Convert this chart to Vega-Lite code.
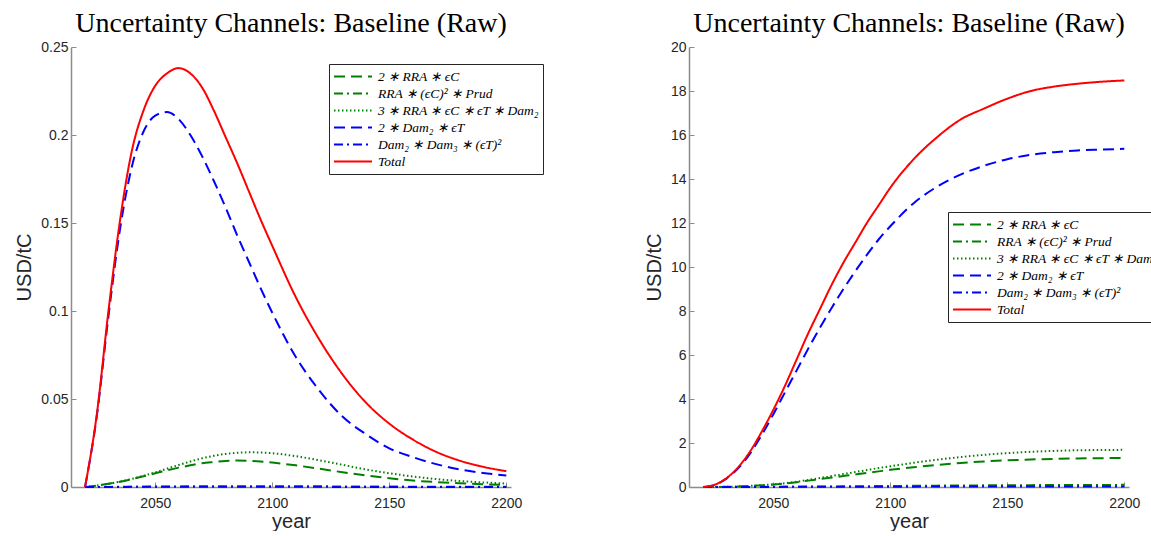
{
  "$schema": "https://vega.github.io/schema/vega-lite/v6.json",
  "background": "white",
  "padding": {"left": 14, "right": 0, "top": 10, "bottom": 0},
  "datasets": {
    "raw_left": [
      {"year": 2020, "A": 0, "B": 0, "C": 0, "D": 0, "E": 0, "T": 0},
      {"year": 2025, "A": 0.0008, "B": 0.00003, "C": 0.0008, "D": 0.040, "E": 0.00002, "T": 0.041},
      {"year": 2030, "A": 0.0018, "B": 0.00007, "C": 0.0018, "D": 0.097, "E": 0.00004, "T": 0.100},
      {"year": 2035, "A": 0.0030, "B": 0.00011, "C": 0.0031, "D": 0.147, "E": 0.00006, "T": 0.152},
      {"year": 2040, "A": 0.0045, "B": 0.00016, "C": 0.0046, "D": 0.182, "E": 0.00008, "T": 0.191},
      {"year": 2045, "A": 0.0061, "B": 0.0002, "C": 0.0064, "D": 0.202, "E": 0.0001, "T": 0.214},
      {"year": 2050, "A": 0.0078, "B": 0.00025, "C": 0.0083, "D": 0.211, "E": 0.00011, "T": 0.228},
      {"year": 2055, "A": 0.0095, "B": 0.0003, "C": 0.0104, "D": 0.213, "E": 0.00012, "T": 0.235},
      {"year": 2060, "A": 0.0110, "B": 0.00034, "C": 0.0125, "D": 0.209, "E": 0.00013, "T": 0.238},
      {"year": 2065, "A": 0.0123, "B": 0.00038, "C": 0.0145, "D": 0.200, "E": 0.00013, "T": 0.235},
      {"year": 2070, "A": 0.0135, "B": 0.00041, "C": 0.0163, "D": 0.188, "E": 0.00013, "T": 0.227},
      {"year": 2075, "A": 0.0142, "B": 0.00043, "C": 0.0177, "D": 0.174, "E": 0.00013, "T": 0.214},
      {"year": 2080, "A": 0.0148, "B": 0.00045, "C": 0.0188, "D": 0.159, "E": 0.00012, "T": 0.199},
      {"year": 2085, "A": 0.0150, "B": 0.00046, "C": 0.0194, "D": 0.143, "E": 0.00012, "T": 0.184},
      {"year": 2090, "A": 0.0149, "B": 0.00046, "C": 0.0197, "D": 0.128, "E": 0.00011, "T": 0.168},
      {"year": 2095, "A": 0.0145, "B": 0.00046, "C": 0.0196, "D": 0.113, "E": 0.00011, "T": 0.152},
      {"year": 2100, "A": 0.0139, "B": 0.00045, "C": 0.0192, "D": 0.099, "E": 0.0001, "T": 0.137},
      {"year": 2110, "A": 0.0123, "B": 0.00042, "C": 0.0175, "D": 0.074, "E": 0.00009, "T": 0.108},
      {"year": 2120, "A": 0.0104, "B": 0.00038, "C": 0.0152, "D": 0.055, "E": 0.00008, "T": 0.084},
      {"year": 2130, "A": 0.0084, "B": 0.00033, "C": 0.0126, "D": 0.040, "E": 0.00006, "T": 0.064},
      {"year": 2140, "A": 0.0066, "B": 0.00029, "C": 0.0100, "D": 0.030, "E": 0.00005, "T": 0.048},
      {"year": 2150, "A": 0.0050, "B": 0.00024, "C": 0.0078, "D": 0.022, "E": 0.00004, "T": 0.036},
      {"year": 2160, "A": 0.0037, "B": 0.0002, "C": 0.0060, "D": 0.017, "E": 0.00003, "T": 0.027},
      {"year": 2170, "A": 0.0028, "B": 0.00016, "C": 0.0045, "D": 0.013, "E": 0.00002, "T": 0.020},
      {"year": 2180, "A": 0.0021, "B": 0.00013, "C": 0.0034, "D": 0.010, "E": 0.00002, "T": 0.015},
      {"year": 2190, "A": 0.0016, "B": 0.0001, "C": 0.0026, "D": 0.008, "E": 0.00001, "T": 0.0115},
      {"year": 2200, "A": 0.0012, "B": 0.00008, "C": 0.0020, "D": 0.0065, "E": 0.00001, "T": 0.009}
    ],
    "raw_right": [
      {"year": 2020, "A": 0, "B": 0, "C": 0, "D": 0, "E": 0, "T": 0},
      {"year": 2025, "A": 0.003, "B": 0.0003, "C": 0.003, "D": 0.1, "E": 0.0005, "T": 0.1},
      {"year": 2030, "A": 0.01, "B": 0.001, "C": 0.01, "D": 0.38, "E": 0.001, "T": 0.4},
      {"year": 2035, "A": 0.025, "B": 0.002, "C": 0.025, "D": 0.85, "E": 0.002, "T": 0.9},
      {"year": 2040, "A": 0.045, "B": 0.004, "C": 0.05, "D": 1.5, "E": 0.003, "T": 1.6},
      {"year": 2045, "A": 0.075, "B": 0.006, "C": 0.08, "D": 2.35, "E": 0.004, "T": 2.5},
      {"year": 2050, "A": 0.11, "B": 0.009, "C": 0.12, "D": 3.3, "E": 0.005, "T": 3.5},
      {"year": 2055, "A": 0.16, "B": 0.012, "C": 0.17, "D": 4.3, "E": 0.006, "T": 4.6},
      {"year": 2060, "A": 0.22, "B": 0.015, "C": 0.24, "D": 5.3, "E": 0.007, "T": 5.8},
      {"year": 2065, "A": 0.29, "B": 0.018, "C": 0.32, "D": 6.3, "E": 0.008, "T": 7.0},
      {"year": 2070, "A": 0.36, "B": 0.022, "C": 0.41, "D": 7.25, "E": 0.009, "T": 8.1},
      {"year": 2075, "A": 0.43, "B": 0.026, "C": 0.5, "D": 8.15, "E": 0.01, "T": 9.2},
      {"year": 2080, "A": 0.5, "B": 0.03, "C": 0.59, "D": 9.0, "E": 0.011, "T": 10.2},
      {"year": 2085, "A": 0.57, "B": 0.034, "C": 0.68, "D": 9.8, "E": 0.012, "T": 11.1},
      {"year": 2090, "A": 0.64, "B": 0.038, "C": 0.77, "D": 10.55, "E": 0.013, "T": 12.0},
      {"year": 2095, "A": 0.71, "B": 0.042, "C": 0.86, "D": 11.25, "E": 0.014, "T": 12.8},
      {"year": 2100, "A": 0.78, "B": 0.046, "C": 0.94, "D": 11.85, "E": 0.015, "T": 13.6},
      {"year": 2110, "A": 0.9, "B": 0.054, "C": 1.1, "D": 12.9, "E": 0.017, "T": 14.9},
      {"year": 2120, "A": 1.0, "B": 0.062, "C": 1.24, "D": 13.65, "E": 0.018, "T": 15.9},
      {"year": 2130, "A": 1.09, "B": 0.069, "C": 1.36, "D": 14.2, "E": 0.019, "T": 16.7},
      {"year": 2140, "A": 1.16, "B": 0.075, "C": 1.46, "D": 14.6, "E": 0.02, "T": 17.2},
      {"year": 2150, "A": 1.21, "B": 0.08, "C": 1.54, "D": 14.9, "E": 0.021, "T": 17.65},
      {"year": 2160, "A": 1.25, "B": 0.085, "C": 1.6, "D": 15.1, "E": 0.022, "T": 18.0},
      {"year": 2170, "A": 1.28, "B": 0.089, "C": 1.64, "D": 15.22, "E": 0.022, "T": 18.2},
      {"year": 2180, "A": 1.3, "B": 0.092, "C": 1.67, "D": 15.3, "E": 0.023, "T": 18.33},
      {"year": 2190, "A": 1.31, "B": 0.095, "C": 1.68, "D": 15.34, "E": 0.023, "T": 18.42},
      {"year": 2200, "A": 1.32, "B": 0.097, "C": 1.69, "D": 15.37, "E": 0.023, "T": 18.48}
    ]
  },
  "config": {
    "view": {"stroke": null},
    "axis": {
      "grid": false,
      "domainColor": "#8c8c8c",
      "domainWidth": 1.5,
      "tickColor": "#8c8c8c",
      "tickSize": -5,
      "tickWidth": 1,
      "labelFont": "Liberation Sans",
      "labelFontSize": 14,
      "labelColor": "#262626",
      "titleFont": "Liberation Sans",
      "titleFontSize": 20,
      "titleFontWeight": "normal",
      "titleColor": "#262626",
      "labelPadding": 8
    },
    "axisX": {"labelPadding": 14, "titlePadding": 1},
    "axisY": {"titlePadding": 6},
    "title": {"font": "Liberation Serif", "fontSize": 28, "fontWeight": "normal", "color": "#000000", "offset": 2, "anchor": "middle"},
    "legend": {
      "orient": "none",
      "title": null,
      "symbolType": "stroke",
      "symbolSize": 1444,
      "symbolStrokeWidth": 2,
      "labelFont": "Liberation Serif",
      "labelFontStyle": "italic",
      "labelFontSize": 13.5,
      "labelColor": "#000000",
      "labelLimit": 400,
      "strokeColor": "#262626",
      "fillColor": "#ffffff",
      "padding": 4,
      "rowPadding": 0,
      "clipHeight": 17,
      "labelOffset": 5
    }
  },
  "spacing": 100,
  "hconcat": [
    {
      "title": "Uncertainty Channels: Baseline (Raw)",
      "width": 440,
      "height": 440,
      "data": {"name": "raw_left"},
      "transform": [{"fold": ["A", "B", "C", "D", "E", "T"], "as": ["series", "value"]}],
      "mark": {"type": "line", "strokeWidth": 2, "interpolate": "monotone", "clip": false},
      "encoding": {
        "x": {"field": "year", "type": "quantitative", "scale": {"domain": [2014, 2202], "nice": false, "zero": false}, "axis": {"values": [2050, 2100, 2150, 2200], "format": "d", "title": "year"}},
        "y": {"field": "value", "type": "quantitative", "scale": {"domain": [0, 0.25], "nice": false}, "axis": {"values": [0, 0.05, 0.1, 0.15, 0.2, 0.25], "format": "~g", "title": "USD/tC"}},
        "color": {"field": "series", "type": "nominal",
          "scale": {"domain": ["A", "B", "C", "D", "E", "T"], "range": ["#008000", "#008000", "#008000", "#0000ff", "#0000ff", "#ff0000"]},
          "legend": {"legendX": 258, "legendY": 17, "labelExpr": "datum.label == 'A' ? '2 ∗ RRA ∗ ϵC' : datum.label == 'B' ? 'RRA ∗ (ϵC)² ∗ Prud' : datum.label == 'C' ? '3 ∗ RRA ∗ ϵC ∗ ϵT ∗ Dam₂' : datum.label == 'D' ? '2 ∗ Dam₂ ∗ ϵT' : datum.label == 'E' ? 'Dam₂ ∗ Dam₃ ∗ (ϵT)²' : 'Total'"}},
        "strokeDash": {"field": "series", "type": "nominal",
          "scale": {"domain": ["A", "B", "C", "D", "E", "T"], "range": [[11, 6], [9, 4, 2, 4], [1.5, 2.5], [11, 6], [9, 4, 2, 4], [1, 0]]},
          "legend": {"legendX": 258, "legendY": 17, "labelExpr": "datum.label == 'A' ? '2 ∗ RRA ∗ ϵC' : datum.label == 'B' ? 'RRA ∗ (ϵC)² ∗ Prud' : datum.label == 'C' ? '3 ∗ RRA ∗ ϵC ∗ ϵT ∗ Dam₂' : datum.label == 'D' ? '2 ∗ Dam₂ ∗ ϵT' : datum.label == 'E' ? 'Dam₂ ∗ Dam₃ ∗ (ϵT)²' : 'Total'"}}
      }
    },
    {
      "title": "Uncertainty Channels: Baseline (Raw)",
      "width": 440,
      "height": 440,
      "data": {"name": "raw_right"},
      "transform": [{"fold": ["A", "B", "C", "D", "E", "T"], "as": ["series", "value"]}],
      "mark": {"type": "line", "strokeWidth": 2, "interpolate": "monotone", "clip": false},
      "encoding": {
        "x": {"field": "year", "type": "quantitative", "scale": {"domain": [2014, 2202], "nice": false, "zero": false}, "axis": {"values": [2050, 2100, 2150, 2200], "format": "d", "title": "year"}},
        "y": {"field": "value", "type": "quantitative", "scale": {"domain": [0, 20], "nice": false}, "axis": {"values": [0, 2, 4, 6, 8, 10, 12, 14, 16, 18, 20], "format": "d", "title": "USD/tC"}},
        "color": {"field": "series", "type": "nominal",
          "scale": {"domain": ["A", "B", "C", "D", "E", "T"], "range": ["#008000", "#008000", "#008000", "#0000ff", "#0000ff", "#ff0000"]},
          "legend": {"legendX": 259, "legendY": 165, "labelExpr": "datum.label == 'A' ? '2 ∗ RRA ∗ ϵC' : datum.label == 'B' ? 'RRA ∗ (ϵC)² ∗ Prud' : datum.label == 'C' ? '3 ∗ RRA ∗ ϵC ∗ ϵT ∗ Dam₂' : datum.label == 'D' ? '2 ∗ Dam₂ ∗ ϵT' : datum.label == 'E' ? 'Dam₂ ∗ Dam₃ ∗ (ϵT)²' : 'Total'"}},
        "strokeDash": {"field": "series", "type": "nominal",
          "scale": {"domain": ["A", "B", "C", "D", "E", "T"], "range": [[11, 6], [9, 4, 2, 4], [1.5, 2.5], [11, 6], [9, 4, 2, 4], [1, 0]]},
          "legend": {"legendX": 259, "legendY": 165, "labelExpr": "datum.label == 'A' ? '2 ∗ RRA ∗ ϵC' : datum.label == 'B' ? 'RRA ∗ (ϵC)² ∗ Prud' : datum.label == 'C' ? '3 ∗ RRA ∗ ϵC ∗ ϵT ∗ Dam₂' : datum.label == 'D' ? '2 ∗ Dam₂ ∗ ϵT' : datum.label == 'E' ? 'Dam₂ ∗ Dam₃ ∗ (ϵT)²' : 'Total'"}}
      }
    }
  ],
  "resolve": {"scale": {"color": "independent", "strokeDash": "independent"}, "legend": {"color": "independent", "strokeDash": "independent"}}
}
